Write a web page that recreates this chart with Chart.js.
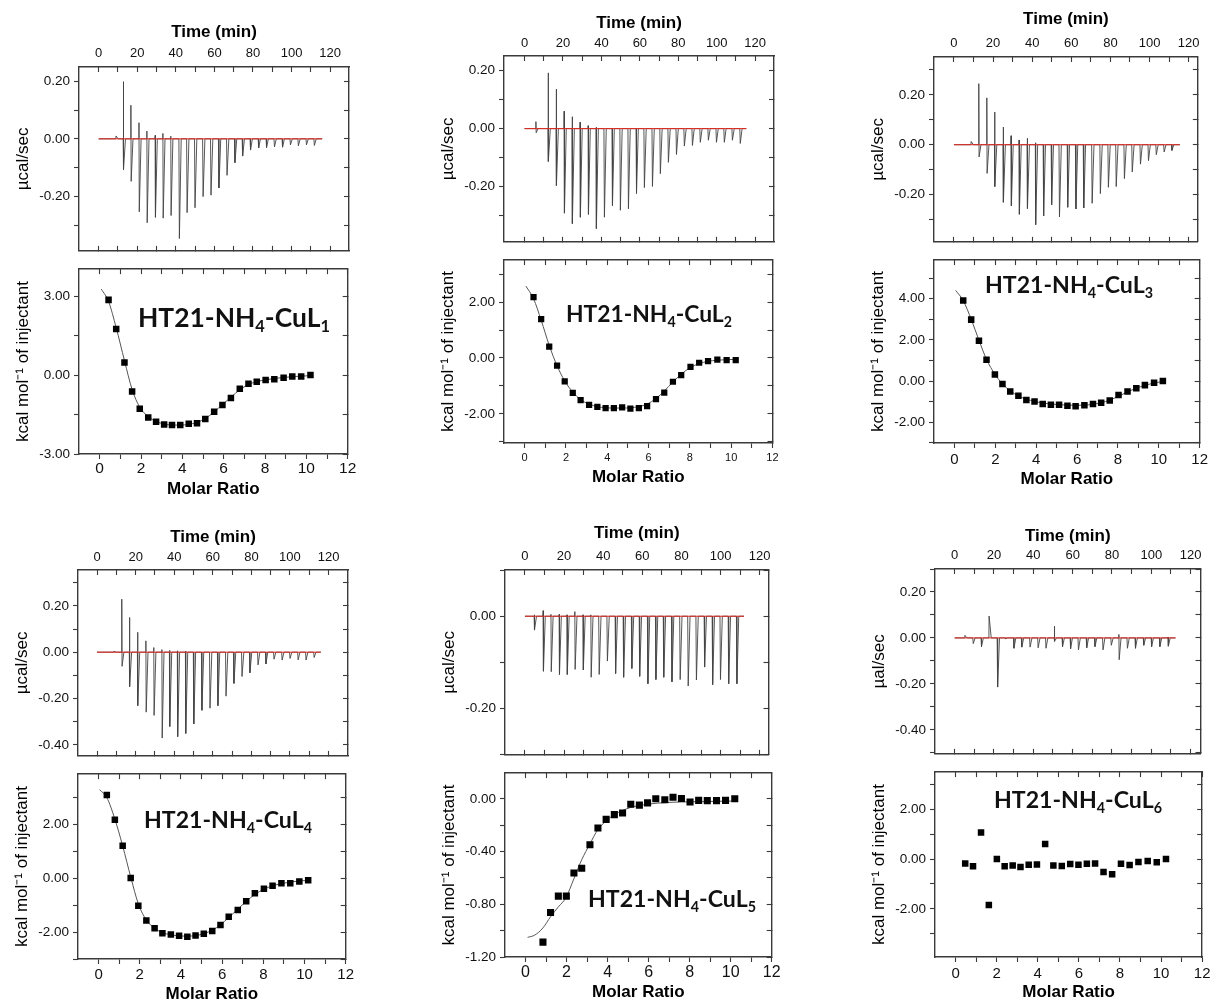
<!DOCTYPE html>
<html>
<head>
<meta charset="utf-8">
<title>ITC HT21-NH4-CuL1..6</title>
<script src="https://cdn.jsdelivr.net/npm/chart.js@4.4.0/dist/chart.umd.min.js"></script>
<style>
  html, body { margin: 0; padding: 0; background: #fff; overflow: hidden; }
  #page { position: relative; width: 1213px; height: 1005px; overflow: hidden; background: #fff; }
  #page canvas { position: absolute; }
</style>
</head>
<body>
<div id="page"></div>
<script>
// ---------- axes shared by every panel ----------
const timeTicks   = [0, 10, 20, 30, 40, 50, 60, 70, 80, 90, 100, 110, 120];
const timeLabels  = [0, 20, 40, 60, 80, 100, 120];
const ratioTicks  = [0, 1, 2, 3, 4, 5, 6, 7, 8, 9, 10, 11, 12];
const ratioLabels = [0, 2, 4, 6, 8, 10, 12];

// ---------- panel 1 : CuL1 ----------
const p1Run      = [0, 115.9];
const p1InjTime  = [9.0, 12.8, 16.7, 20.9, 25.0, 29.3, 33.3, 37.4, 41.7, 45.7, 49.8, 54.0, 58.1, 62.2, 66.4, 70.5, 74.5, 78.6, 82.8, 86.9, 91.0, 95.2, 99.3, 103.4, 107.6, 111.7];
const p1InjUp    = [0.010, 0.199, 0.117, 0.056, 0.027, 0.012, 0.019, 0.009, 0, 0, 0, 0, 0, 0, 0, 0, 0, 0, 0, 0, 0, 0, 0, 0, 0, 0];
const p1InjDown  = [0, -0.107, -0.148, -0.254, -0.292, -0.273, -0.276, -0.267, -0.347, -0.257, -0.240, -0.201, -0.196, -0.171, -0.127, -0.083, -0.060, -0.039, -0.032, -0.030, -0.028, -0.029, -0.021, -0.024, -0.021, -0.023];
const p1Ratio    = [0.43, 0.80, 1.20, 1.57, 1.94, 2.35, 2.73, 3.12, 3.50, 3.90, 4.31, 4.71, 5.11, 5.54, 5.94, 6.35, 6.78, 7.20, 7.60, 8.03, 8.45, 8.90, 9.32, 9.75, 10.20];
const p1Heat     = [2.86, 1.75, 0.48, -0.62, -1.28, -1.61, -1.77, -1.88, -1.90, -1.90, -1.85, -1.83, -1.67, -1.39, -1.14, -0.87, -0.52, -0.33, -0.25, -0.19, -0.16, -0.10, -0.05, -0.05, 0.00];
const p1FitRatio = [0.08, 0.43, 0.80, 1.20, 1.57, 1.94, 2.35, 2.73, 3.12, 3.50, 3.90, 4.31, 4.71, 5.11, 5.54, 5.94, 6.35, 6.78, 7.20, 7.60, 8.03, 8.45, 8.90, 9.32, 9.75, 10.20];
const p1FitHeat  = [3.27, 2.80, 1.80, 0.55, -0.55, -1.22, -1.58, -1.76, -1.86, -1.90, -1.90, -1.87, -1.80, -1.65, -1.40, -1.12, -0.84, -0.56, -0.36, -0.25, -0.18, -0.13, -0.09, -0.06, -0.04, -0.02];
const p1TopTicks = [-0.3, -0.2, -0.1, 0, 0.1, 0.2];
const p1TopLabels = [-0.2, 0, 0.2];
const p1BotTicks = [-3, -1.5, 0, 1.5, 3];
const p1BotLabels = [-3, 0, 3];

// ---------- panel 2 : CuL2 ----------
const p2Run      = [0, 115.4];
const p2InjTime  = [5.9, 12.3, 16.5, 20.6, 24.8, 28.9, 33.1, 37.3, 41.4, 45.6, 49.7, 53.9, 58.1, 62.2, 66.4, 70.5, 74.7, 78.9, 83.0, 87.2, 91.3, 95.5, 99.7, 103.8, 108.0, 112.1];
const p2InjUp    = [0.024, 0.192, 0.136, 0.060, 0.041, 0.022, 0.010, 0.005, 0, 0, 0, 0, 0, 0, 0, 0, 0, 0, 0, 0, 0, 0, 0, 0, 0, 0];
const p2InjDown  = [-0.014, -0.113, -0.196, -0.291, -0.327, -0.305, -0.295, -0.344, -0.305, -0.265, -0.281, -0.276, -0.223, -0.203, -0.199, -0.155, -0.116, -0.089, -0.060, -0.058, -0.047, -0.040, -0.047, -0.047, -0.040, -0.051];
const p2Ratio    = [0.43, 0.80, 1.19, 1.57, 1.94, 2.33, 2.71, 3.12, 3.52, 3.92, 4.32, 4.72, 5.12, 5.53, 5.93, 6.36, 6.76, 7.18, 7.58, 8.03, 8.45, 8.88, 9.33, 9.78, 10.22];
const p2Heat     = [2.18, 1.39, 0.41, -0.27, -0.84, -1.25, -1.51, -1.68, -1.75, -1.79, -1.79, -1.77, -1.81, -1.79, -1.72, -1.47, -1.24, -0.85, -0.61, -0.32, -0.17, -0.11, -0.06, -0.08, -0.08];
const p2FitRatio = [0.06, 0.43, 0.80, 1.19, 1.57, 1.94, 2.33, 2.71, 3.12, 3.52, 3.92, 4.32, 4.72, 5.12, 5.53, 5.93, 6.36, 6.76, 7.18, 7.58, 8.03, 8.45, 8.88, 9.33, 9.78, 10.22];
const p2FitHeat  = [2.57, 2.12, 1.35, 0.45, -0.28, -0.82, -1.22, -1.49, -1.65, -1.74, -1.78, -1.79, -1.79, -1.78, -1.74, -1.65, -1.45, -1.18, -0.86, -0.58, -0.34, -0.20, -0.12, -0.08, -0.06, -0.05];
const p2TopTicks = [-0.3, -0.2, -0.1, 0, 0.1, 0.2];
const p2TopLabels = [-0.2, 0, 0.2];
const p2BotTicks = [-3, -2, -1, 0, 1, 2, 3];
const p2BotLabels = [-2, 0, 2];

// ---------- panel 3 : CuL3 ----------
const p3Run      = [0, 115.5];
const p3InjTime  = [8.8, 12.7, 16.8, 20.8, 25.2, 29.2, 33.3, 37.5, 41.7, 45.7, 49.8, 53.8, 58.0, 62.2, 66.2, 70.5, 74.7, 78.8, 82.8, 87.0, 91.0, 95.2, 99.3, 103.3, 107.3, 111.3];
const p3InjUp    = [0.013, 0.245, 0.188, 0.131, 0.071, 0.036, 0.019, 0.026, 0.008, 0, 0, 0, 0, 0, 0, 0, 0, 0, 0, 0, 0, 0, 0, 0, 0, 0];
const p3InjDown  = [0, -0.049, -0.115, -0.168, -0.231, -0.245, -0.279, -0.256, -0.321, -0.286, -0.241, -0.290, -0.251, -0.258, -0.254, -0.235, -0.196, -0.171, -0.168, -0.136, -0.109, -0.078, -0.064, -0.040, -0.029, -0.023];
const p3Ratio    = [0.43, 0.82, 1.20, 1.57, 1.98, 2.35, 2.73, 3.13, 3.52, 3.92, 4.32, 4.72, 5.12, 5.53, 5.93, 6.36, 6.78, 7.18, 7.60, 8.03, 8.47, 8.90, 9.32, 9.77, 10.20];
const p3Heat     = [3.91, 2.98, 1.95, 1.03, 0.32, -0.15, -0.51, -0.72, -0.92, -1.00, -1.12, -1.15, -1.15, -1.20, -1.22, -1.18, -1.12, -1.06, -0.95, -0.68, -0.51, -0.35, -0.20, -0.09, 0.00];
const p3FitRatio = [0.06, 0.43, 0.82, 1.20, 1.57, 1.98, 2.35, 2.73, 3.13, 3.52, 3.92, 4.32, 4.72, 5.12, 5.53, 5.93, 6.36, 6.78, 7.18, 7.60, 8.03, 8.47, 8.90, 9.32, 9.77, 10.20];
const p3FitHeat  = [4.40, 3.90, 3.00, 1.98, 1.05, 0.33, -0.14, -0.48, -0.72, -0.88, -0.99, -1.07, -1.12, -1.15, -1.17, -1.18, -1.17, -1.13, -1.05, -0.93, -0.74, -0.53, -0.35, -0.21, -0.10, -0.02];
const p3TopTicks = [-0.3, -0.2, -0.1, 0, 0.1, 0.2, 0.3];
const p3TopLabels = [-0.2, 0, 0.2];
const p3BotTicks = [-3, -2, -1, 0, 1, 2, 3, 4, 5];
const p3BotLabels = [-2, 0, 2, 4];

// ---------- panel 4 : CuL4 ----------
const p4Run      = [0, 116.0];
const p4InjTime  = [8.7, 12.8, 16.8, 21.0, 25.3, 29.4, 33.6, 37.6, 41.7, 45.9, 50.0, 54.2, 58.4, 62.5, 66.7, 70.8, 75.0, 79.1, 83.3, 87.4, 91.6, 95.8, 99.9, 104.1, 108.2, 112.4];
const p4InjUp    = [0.004, 0.229, 0.150, 0.086, 0.049, 0.020, 0.011, 0.008, 0.006, 0.005, 0, 0, 0, 0, 0, 0, 0, 0, 0, 0, 0, 0, 0, 0, 0, 0];
const p4InjDown  = [0, -0.061, -0.149, -0.231, -0.259, -0.273, -0.371, -0.321, -0.365, -0.351, -0.310, -0.251, -0.242, -0.231, -0.190, -0.135, -0.105, -0.089, -0.055, -0.051, -0.030, -0.034, -0.027, -0.033, -0.034, -0.023];
const p4Ratio    = [0.40, 0.79, 1.17, 1.56, 1.93, 2.32, 2.72, 3.10, 3.51, 3.91, 4.31, 4.71, 5.11, 5.52, 5.92, 6.32, 6.76, 7.17, 7.59, 8.03, 8.45, 8.88, 9.31, 9.75, 10.18];
const p4Heat     = [3.09, 2.17, 1.21, 0.01, -1.02, -1.57, -1.86, -2.04, -2.09, -2.14, -2.17, -2.13, -2.06, -1.96, -1.74, -1.43, -1.18, -0.85, -0.56, -0.39, -0.28, -0.19, -0.19, -0.12, -0.07];
const p4FitRatio = [0.05, 0.40, 0.79, 1.17, 1.56, 1.93, 2.32, 2.72, 3.10, 3.51, 3.91, 4.31, 4.71, 5.11, 5.52, 5.92, 6.32, 6.76, 7.17, 7.59, 8.03, 8.45, 8.88, 9.31, 9.75, 10.18];
const p4FitHeat  = [3.29, 3.00, 2.20, 1.20, 0.05, -0.95, -1.55, -1.86, -2.02, -2.10, -2.14, -2.15, -2.13, -2.06, -1.93, -1.73, -1.46, -1.15, -0.86, -0.60, -0.41, -0.28, -0.20, -0.14, -0.10, -0.08];
const p4TopTicks = [-0.4, -0.3, -0.2, -0.1, 0, 0.1, 0.2, 0.3];
const p4TopLabels = [-0.4, -0.2, 0, 0.2];
const p4BotTicks = [-3, -2, -1, 0, 1, 2, 3];
const p4BotLabels = [-2, 0, 2];

// ---------- panel 5 : CuL5 ----------
const p5Run      = [0, 112.0];
const p5InjTime  = [4.8, 9.3, 13.3, 17.5, 21.5, 25.5, 29.7, 33.7, 37.8, 42.0, 46.2, 50.3, 54.5, 58.5, 62.7, 66.8, 70.8, 75.0, 79.2, 83.3, 87.5, 91.7, 95.8, 99.8, 104.0, 108.2];
const p5InjUp    = [0.003, 0.012, 0.004, 0.004, 0.003, 0.010, 0.003, 0.003, 0, 0, 0, 0, 0, 0, 0, 0, 0, 0, 0, 0, 0, 0, 0, 0, 0, 0];
const p5InjDown  = [-0.030, -0.119, -0.120, -0.126, -0.126, -0.115, -0.116, -0.132, -0.126, -0.097, -0.124, -0.132, -0.113, -0.130, -0.146, -0.137, -0.132, -0.142, -0.137, -0.151, -0.138, -0.110, -0.148, -0.137, -0.146, -0.146];
const p5Ratio    = [0.85, 1.22, 1.60, 1.99, 2.36, 2.74, 3.14, 3.53, 3.93, 4.33, 4.73, 5.13, 5.55, 5.95, 6.35, 6.79, 7.19, 7.60, 8.02, 8.44, 8.86, 9.31, 9.75, 10.20];
const p5Heat     = [-1.087, -0.863, -0.738, -0.738, -0.563, -0.527, -0.349, -0.221, -0.156, -0.120, -0.108, -0.041, -0.048, -0.031, 0.000, -0.007, 0.012, 0.002, -0.024, -0.012, -0.014, -0.014, -0.012, 0.000];
const p5FitRatio = [0.10, 0.45, 0.85, 1.22, 1.60, 1.97, 2.36, 2.74, 3.14, 3.53, 3.93, 4.33, 4.73, 5.13, 5.95, 6.79, 7.60, 8.44, 9.31, 10.20];
const p5FitHeat  = [-1.051, -1.034, -0.979, -0.895, -0.820, -0.750, -0.606, -0.462, -0.342, -0.233, -0.168, -0.120, -0.089, -0.065, -0.041, -0.029, -0.024, -0.022, -0.019, -0.017];
const p5TopTicks = [-0.3, -0.2, -0.1, 0, 0.1];
const p5TopLabels = [-0.2, 0];
const p5BotTicks = [-1.2, -1.0, -0.8, -0.6, -0.4, -0.2, 0];
const p5BotLabels = [-1.2, -0.8, -0.4, 0];

// ---------- panel 6 : CuL6 ----------
const p6Run      = [0, 112.3];
const p6InjTime  = [5.2, 9.3, 13.5, 17.5, 21.7, 25.8, 30.0, 34.0, 38.2, 42.3, 46.3, 50.7, 54.7, 58.8, 62.8, 67.0, 71.2, 75.3, 79.5, 83.5, 87.7, 91.8, 96.0, 100.0, 104.2, 108.5];
const p6InjUp    = [0.011, 0, 0, 0.095, 0, 0, 0, 0, 0, 0, 0, 0.051, 0, 0, 0, 0, 0, 0, 0, 0.015, 0, 0, 0, 0, 0, 0.004];
const p6InjDown  = [0, -0.025, -0.038, 0, -0.214, -0.004, -0.045, -0.040, -0.040, -0.043, -0.045, -0.015, -0.038, -0.047, -0.052, -0.043, -0.038, -0.052, -0.032, -0.095, -0.045, -0.045, -0.032, -0.038, -0.038, -0.036];
const p6Ratio    = [0.47, 0.85, 1.24, 1.62, 2.01, 2.39, 2.78, 3.16, 3.56, 3.96, 4.36, 4.76, 5.17, 5.58, 5.98, 6.39, 6.79, 7.20, 7.62, 8.05, 8.47, 8.90, 9.35, 9.79, 10.24];
const p6Heat     = [-0.18, -0.29, 1.07, -1.85, 0.00, -0.29, -0.26, -0.32, -0.23, -0.22, 0.61, -0.26, -0.28, -0.20, -0.23, -0.19, -0.18, -0.52, -0.61, -0.19, -0.24, -0.12, -0.08, -0.13, 0.00];
const p6TopTicks = [-0.5, -0.4, -0.3, -0.2, -0.1, 0, 0.1, 0.2, 0.3];
const p6TopLabels = [-0.4, -0.2, 0, 0.2];
const p6BotTicks = [-3, -2, -1, 0, 1, 2, 3];
const p6BotLabels = [-2, 0, 2];

// ---------- layout (page pixels) ----------
// box = [left, right, top, divider, bottom] of the framed plots
const panels = [
  { box: [79, 349, 67, 260, 454],   time: [-10.2, 129.8], yTop: [-0.39, 0.25],  yBot: [-3, 4.03],
    run: p1Run, inj: [p1InjTime, p1InjUp, p1InjDown], ratio: p1Ratio, heat: p1Heat, fit: [p1FitRatio, p1FitHeat],
    topTicks: p1TopTicks, topLabels: p1TopLabels, botTicks: p1BotTicks, botLabels: p1BotLabels,
    unit: '\u00B5cal/sec', name: '1', tag: [234, 327, 192], rFont: 15.5, tDist: 14, tTitle: 35, rDist: 15, rTitle: 35, mark: 4.6 },
  { box: [504, 774, 56, 251, 443],  time: [-10.7, 129.8], yTop: [-0.39, 0.25],  yBot: [-3.04, 3.5],
    run: p2Run, inj: [p2InjTime, p2InjUp, p2InjDown], ratio: p2Ratio, heat: p2Heat, fit: [p2FitRatio, p2FitHeat],
    topTicks: p2TopTicks, topLabels: p2TopLabels, botTicks: p2BotTicks, botLabels: p2BotLabels,
    unit: '\u00B5cal/sec', name: '2', tag: [649, 322, 166], rFont: 11, tDist: 13, tTitle: 33, rDist: 15, rTitle: 34, mark: 4.4 },
  { box: [934, 1203, 57, 251, 443], time: [-10.2, 124.7], yTop: [-0.39, 0.352], yBot: [-3.01, 5.87],
    run: p3Run, inj: [p3InjTime, p3InjUp, p3InjDown], ratio: p3Ratio, heat: p3Heat, fit: [p3FitRatio, p3FitHeat],
    topTicks: p3TopTicks, topLabels: p3TopLabels, botTicks: p3BotTicks, botLabels: p3BotLabels,
    unit: '\u00B5cal/sec', name: '3', tag: [1069, 293, 168], rFont: 15, tDist: 14, tTitle: 38, rDist: 17, rTitle: 36, mark: 4.6 },
  { box: [78, 348, 570, 765, 959],  time: [-9.9, 130.1],  yTop: [-0.448, 0.355], yBot: [-3, 3.87],
    run: p4Run, inj: [p4InjTime, p4InjUp, p4InjDown], ratio: p4Ratio, heat: p4Heat, fit: [p4FitRatio, p4FitHeat],
    topTicks: p4TopTicks, topLabels: p4TopLabels, botTicks: p4BotTicks, botLabels: p4BotLabels,
    unit: '\u00B5cal/sec', name: '4', tag: [228, 828, 168], rFont: 15, tDist: 13, tTitle: 33, rDist: 16, rTitle: 35, mark: 4.6 },
  { box: [505, 774, 570, 764, 957], time: [-10.2, 124.5], yTop: [-0.30, 0.10], yBot: [-1.2, 0.195],
    run: p5Run, inj: [p5InjTime, p5InjUp, p5InjDown], ratio: p5Ratio, heat: p5Heat, fit: [p5FitRatio, p5FitHeat],
    topTicks: p5TopTicks, topLabels: p5TopLabels, botTicks: p5BotTicks, botLabels: p5BotLabels,
    unit: '\u00B5cal/sec', name: '5', tag: [672, 907, 168], rFont: 16, tDist: 14, tTitle: 37, rDist: 16, rTitle: 35, mark: 5.0 },
  { box: [935, 1205, 569, 763, 957], time: [-10, 125],    yTop: [-0.505, 0.30], yBot: [-3.94, 3.5],
    run: p6Run, inj: [p6InjTime, p6InjUp, p6InjDown], ratio: p6Ratio, heat: p6Heat, fit: null,
    topTicks: p6TopTicks, topLabels: p6TopLabels, botTicks: p6BotTicks, botLabels: p6BotLabels,
    unit: '\u00B5al/sec', name: '6', tag: [1078, 808, 168], rFont: 15, tDist: 14, tTitle: 33, rDist: 16.5, rTitle: 35, mark: 4.6 }
];

const FONT  = "'Liberation Sans', Arial, Helvetica, sans-serif";
const INK   = '#3a3a3a';
const TRACE = '#444';
const RED   = '#e3261c';
const L = 78, R = 8, T = 58, B = 52, EDGE = 3;   // margins around each framed plot

const page = document.getElementById('page');
function addCanvas(x, y, w, h) {
  const c = document.createElement('canvas');
  c.width = w; c.height = h;
  c.style.left = x + 'px'; c.style.top = y + 'px';
  c.style.width = w + 'px'; c.style.height = h + 'px';
  page.appendChild(c);
  return c;
}

const near = (arr, v) => arr.some(a => Math.abs(a - v) < 1e-6);
const fmt2 = v => (Math.abs(v) < 1e-9 ? 0 : v).toFixed(2);
const fmt0 = v => String(Math.round(v));

// thermogram: each injection = sharp spike up (if any), sharp spike down, quick return to baseline
function thermogram(run, times, ups, downs) {
  const pts = [{ x: run[0], y: 0 }];
  times.forEach((t, i) => {
    pts.push({ x: t - 0.1, y: 0 });
    if (ups[i]) pts.push({ x: t, y: ups[i] });
    if (downs[i]) pts.push({ x: t + 0.15, y: downs[i] });
    pts.push({ x: t + 1.1, y: 0 });
  });
  pts.push({ x: run[1], y: 0 });
  return pts;
}
const xy = (xs, ys) => xs.map((x, i) => ({ x, y: ys[i] }));

// one scale; tick < 0 draws the ticks inside the frame
function axis(o) {
  const horiz = o.pos === 'top' || o.pos === 'bottom';
  const size = o.font || 12, lh = size * 1.2;
  const s = {
    type: 'linear', position: o.pos, min: o.range[0], max: o.range[1],
    afterBuildTicks: sc => { sc.ticks = o.ticks.map(v => ({ value: v })); },
    afterFit: sc => { if (horiz) sc.height = o.size; else sc.width = o.size; },
    border: { display: true, color: INK, width: 1.4 },
    grid: { display: true, drawOnChartArea: false, drawTicks: true, tickLength: o.tick, tickColor: INK, tickWidth: 1.1 },
    ticks: {
      autoSkip: false, maxRotation: 0, minRotation: 0, color: '#111',
      font: { family: FONT, size },
      padding: o.labels ? (horiz ? o.dist - o.tick - lh / 2 : o.dist - o.tick) : 0,
      callback: v => (o.labels && near(o.labels, v)) ? o.fmt(v) : ''
    },
    title: { display: false }
  };
  if (o.title) {
    const tlh = o.title.size * 1.2;
    const p = o.size - o.title.dist - tlh / 2;
    s.title = {
      display: true, text: o.title.text, color: '#000',
      font: { family: FONT, size: o.title.size, weight: o.title.bold ? 'bold' : 'normal' },
      padding: o.pos === 'bottom' ? { top: 0, bottom: p } : { top: p, bottom: 0 }
    };
  }
  return s;
}

const baseOptions = {
  responsive: false, animation: false, events: [],
  layout: { padding: 0 },
  plugins: { legend: { display: false }, tooltip: { enabled: false } }
};

function thermoChart(p) {
  const [x0, x1, y0, ym] = p.box;
  const w = x1 - x0, h = ym - y0;
  const cv = addCanvas(x0 - L, y0 - T, L + w + R, T + h + EDGE);
  return new Chart(cv, {
    type: 'line',
    data: { datasets: [
      { data: [{ x: p.run[0], y: 0 }, { x: p.run[1], y: 0 }], borderColor: RED, borderWidth: 1,
        pointRadius: 0, xAxisID: 'xt', yAxisID: 'y' },
      { data: thermogram(p.run, p.inj[0], p.inj[1], p.inj[2]), borderColor: TRACE, borderWidth: 0.9,
        pointRadius: 0, tension: 0, xAxisID: 'xt', yAxisID: 'y' }
    ] },
    options: {
      ...baseOptions,
      scales: {
        xt: axis({ pos: 'top', range: p.time, ticks: timeTicks, labels: timeLabels, fmt: fmt0, size: T, tick: -5,
                   font: 13, dist: p.tDist, title: { text: 'Time (min)', size: 17, bold: true, dist: p.tTitle } }),
        xb: axis({ pos: 'bottom', range: p.time, ticks: timeTicks, size: EDGE, tick: -5 }),
        y:  axis({ pos: 'left', range: p.yTop, ticks: p.topTicks, labels: p.topLabels, fmt: fmt2, size: L, tick: 5,
                   font: 13.5, dist: 9, title: { text: p.unit, size: 17, dist: 56 } }),
        yr: axis({ pos: 'right', range: p.yTop, ticks: p.topTicks, size: R, tick: -5 })
      }
    }
  });
}

function drawTag(ctx, p, ox, oy) {
  const [cx, base, width] = p.tag;
  const parts = [['HT21-NH', false], ['4', true], ['-CuL', false], [p.name, true]];
  const fam = "Lato, 'Open Sans', sans-serif";
  const measure = f => parts.reduce((s, [t, sub]) => {
    ctx.font = `bold ${sub ? f * 0.62 : f}px ${fam}`;
    return s + ctx.measureText(t).width;
  }, 0);
  const f = 26 * width / measure(26);
  let x = cx - ox - width / 2;
  ctx.save();
  ctx.fillStyle = '#111';
  ctx.textAlign = 'left';
  ctx.textBaseline = 'alphabetic';
  for (const [t, sub] of parts) {
    ctx.font = `bold ${sub ? f * 0.62 : f}px ${fam}`;
    ctx.fillText(t, x, base - oy + (sub ? f * 0.2 : 0));
    x += ctx.measureText(t).width;
  }
  ctx.restore();
}

function heatChart(p) {
  const [x0, x1, , ym, y1] = p.box;
  const w = x1 - x0, h = y1 - ym;
  const ox = x0 - L, oy = ym - EDGE;
  const cv = addCanvas(ox, oy, L + w + R, EDGE + h + B);
  const datasets = [
    { data: xy(p.ratio, p.heat), showLine: false, pointStyle: 'rect', pointRadius: p.mark,
      pointBackgroundColor: '#000', pointBorderWidth: 0, borderWidth: 0, xAxisID: 'xm', yAxisID: 'y' }
  ];
  if (p.fit) datasets.push({
    data: xy(p.fit[0], p.fit[1]), borderColor: '#555', borderWidth: 1, pointRadius: 0,
    cubicInterpolationMode: 'monotone', xAxisID: 'xm', yAxisID: 'y'
  });
  return new Chart(cv, {
    type: 'line',
    data: { datasets },
    options: {
      ...baseOptions,
      scales: {
        xm: axis({ pos: 'bottom', range: [-1, 12], ticks: ratioTicks, labels: ratioLabels, fmt: fmt0, size: B, tick: 5,
                   font: p.rFont, dist: p.rDist, title: { text: 'Molar Ratio', size: 17, bold: true, dist: p.rTitle } }),
        xm2: axis({ pos: 'top', range: [-1, 12], ticks: ratioTicks, size: EDGE, tick: -5 }),
        y:  axis({ pos: 'left', range: p.yBot, ticks: p.botTicks, labels: p.botLabels, fmt: fmt2, size: L, tick: 5,
                   font: 13.5, dist: 9, title: { text: 'kcal mol\u207B\u00B9 of injectant', size: 17, dist: 56 } }),
        yr: axis({ pos: 'right', range: p.yBot, ticks: p.botTicks, size: R, tick: -5 })
      }
    },
    plugins: [{ id: 'tag', afterDatasetsDraw(chart) { drawTag(chart.ctx, p, ox, oy); } }]
  });
}

panels.forEach(p => { thermoChart(p); heatChart(p); });
</script>
</body>
</html>
